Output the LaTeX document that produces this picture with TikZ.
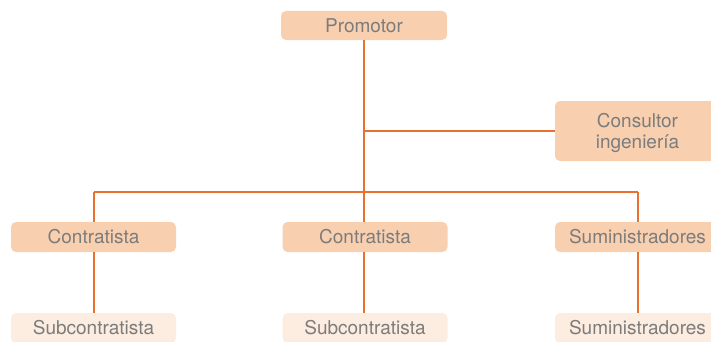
\documentclass[tikz,border=0pt]{standalone}
\usepackage{fontspec}
\setmainfont{TeX Gyre Heros}
\definecolor{linea}{RGB}{234,112,46}
\definecolor{caja}{RGB}{248,207,175}
\definecolor{cajaclara}{RGB}{253,236,224}
\definecolor{texto}{RGB}{124,124,124}
\tikzset{
  cargo/.style={fill=caja, rounded corners=5pt, minimum width=165pt, minimum height=30pt,
    inner sep=0pt, text=texto, font=\fontsize{19}{21}\selectfont, align=center},
  subcargo/.style={cargo, fill=cajaclara},
  enlace/.style={draw=linea, line width=2pt}
}
\begin{document}
\begin{tikzpicture}[x=1pt,y=1pt]
  \useasboundingbox (0,0) rectangle (711,341);
  \clip (0,0) rectangle (711,341);
  \node[cargo, minimum width=166pt, minimum height=29pt] (promotor) at (364,315.5) {Promotor};
  \node[cargo, minimum height=60pt, text depth=0pt] (consultor) at (637.5,210) {Consultor\\ingeniería};
  \node[cargo] (contrA) at (93.5,104) {Contratista};
  \node[cargo] (contrB) at (365,104) {Contratista};
  \node[cargo] (sumA) at (637.5,104) {Suministradores};
  \node[subcargo] (subA) at (93.5,13) {Subcontratista};
  \node[subcargo] (subB) at (365,13) {Subcontratista};
  \node[subcargo] (sumB) at (637.5,13) {Suministradores};
  \coordinate (busA) at (93.5,149);
  \coordinate (busB) at (364,149);
  \coordinate (busC) at (637.5,149);
  \coordinate (ramal) at (364,210);
  \draw[enlace] (promotor.south -| busB) -- (busB);
  \draw[enlace] (ramal) -- (consultor.west);
  \draw[enlace] (busA) -- (busC);
  \draw[enlace] (busA) -- (contrA.north);
  \draw[enlace] (busB) -- (contrB.north -| busB);
  \draw[enlace] (busC) -- (sumA.north);
  \draw[enlace] (contrA) -- (subA);
  \draw[enlace] (contrB.south -| busB) -- (subB.north -| busB);
  \draw[enlace] (sumA) -- (sumB);
\end{tikzpicture}
\end{document}
